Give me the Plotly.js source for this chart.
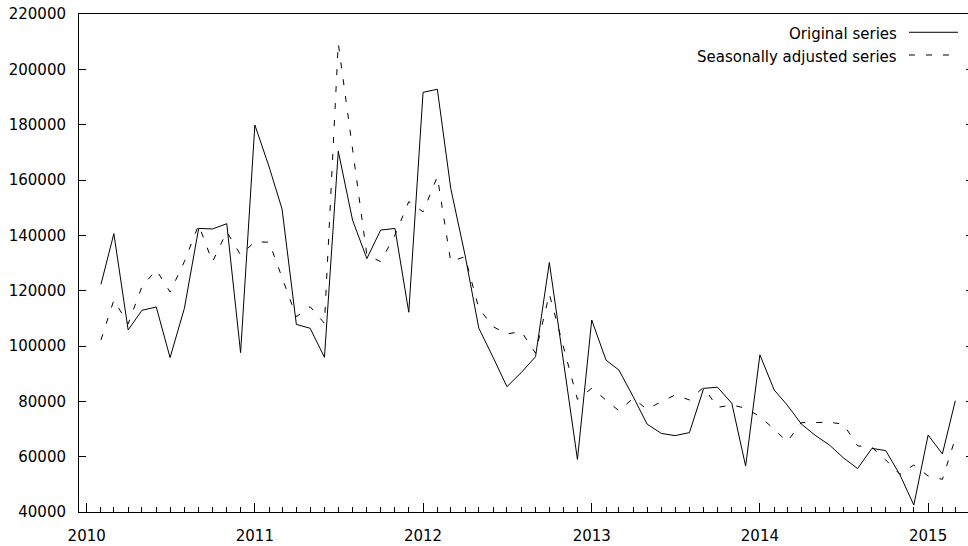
<!DOCTYPE html>
<html>
<head>
<meta charset="utf-8">
<script src="https://cdn.plot.ly/plotly-3.0.1.min.js"></script>
<style>
  html, body { margin: 0; padding: 0; overflow: hidden; background: #fff; }
  #chart { width: 974px; height: 546px; }
</style>
</head>
<body>
<div id="chart"></div>
<script>
const months = [
  '2010-02','2010-03','2010-04','2010-05','2010-06','2010-07','2010-08','2010-09','2010-10','2010-11','2010-12',
  '2011-01','2011-02','2011-03','2011-04','2011-05','2011-06','2011-07','2011-08','2011-09','2011-10','2011-11','2011-12',
  '2012-01','2012-02','2012-03','2012-04','2012-05','2012-06','2012-07','2012-08','2012-09','2012-10','2012-11','2012-12',
  '2013-01','2013-02','2013-03','2013-04','2013-05','2013-06','2013-07','2013-08','2013-09','2013-10','2013-11','2013-12',
  '2014-01','2014-02','2014-03','2014-04','2014-05','2014-06','2014-07','2014-08','2014-09','2014-10','2014-11','2014-12',
  '2015-01','2015-02','2015-03'
];

const originalSeries = [
  122300, 140600, 105800, 112900, 114100, 95800, 113600, 142500, 142300, 144200, 97600,
  179900, 164700, 149500, 107800, 106400, 95900, 170400, 145500, 131600, 141900, 142500, 112200,
  191700, 192800, 157000, 132900, 106400, 95900, 85300, 90400, 96100, 130200, 94700, 59000,
  109400, 94900, 91300, 81700, 71800, 68400, 67600, 68700, 84700, 85100, 79300, 56600,
  96800, 84100, 78700, 71800, 67700, 64200, 59600, 55700, 63000, 62200, 53400, 42500,
  67800, 61000, 80200
];

const adjustedSeries = [
  102200, 116600, 108000, 121500, 127500, 119500, 130500, 143800, 130400, 141300, 132900,
  137700, 137500, 124500, 110600, 114200, 108200, 209400, 171000, 132900, 130500, 140100, 152200,
  148500, 161200, 130500, 132300, 113600, 107000, 104300, 105300, 97400, 118800, 99500, 80700,
  84700, 80500, 76600, 81100, 77100, 79900, 82300, 80500, 85100, 77800, 78700, 77500,
  74500, 69900, 65400, 72300, 72400, 72400, 71800, 63900, 63400, 58800, 53600, 57000,
  53000, 51800, 66600
];

const seriesNames = ['Original series', 'Seasonally adjusted series'];
const yTicks = [40000, 60000, 80000, 100000, 120000, 140000, 160000, 180000, 200000, 220000];

const dates = months.map(m => m + '-01');
const FONT = 'DejaVu Sans, Verdana, sans-serif';
const DASH = '6px,11px';

const traces = [
  {
    x: dates, y: originalSeries, name: seriesNames[0], type: 'scatter', mode: 'lines',
    line: { color: '#000000', width: 1 }, showlegend: false, hoverinfo: 'x+y'
  },
  {
    x: dates, y: adjustedSeries, name: seriesNames[1], type: 'scatter', mode: 'lines',
    line: { color: '#000000', width: 1, dash: DASH }, showlegend: false, hoverinfo: 'x+y'
  }
];

const legX = 0.9172, legL0 = 0.9284, legL1 = 0.9832;
const legY = [0.960, 0.914];

const layout = {
  width: 974, height: 546,
  margin: { l: 79, r: 1, t: 14, b: 34, pad: 0 },
  paper_bgcolor: '#ffffff', plot_bgcolor: '#ffffff',
  font: { family: FONT, size: 15, color: '#000000' },
  showlegend: false,
  xaxis: {
    type: 'date',
    range: ['2009-12-15 08:00', '2015-04-08 10:00'],
    tick0: '2010-01-01', dtick: 'M12', tickformat: '%Y',
    ticks: 'inside', ticklen: 9, tickwidth: 1, tickcolor: '#000000',
    minor: { dtick: 'M1', ticks: 'inside', ticklen: 5, tickwidth: 1, tickcolor: '#000000', showgrid: false },
    showgrid: false, zeroline: false,
    showline: true, linecolor: '#000000', linewidth: 1, mirror: true,
    ticklabelstandoff: 10,
    tickfont: { family: FONT, size: 15, color: '#000000' }
  },
  yaxis: {
    range: [40000, 220000],
    tickmode: 'array', tickvals: yTicks, ticktext: yTicks.map(String),
    ticks: 'inside', ticklen: 7, tickwidth: 1, tickcolor: '#000000',
    showgrid: false, zeroline: false,
    showline: true, linecolor: '#000000', linewidth: 1, mirror: 'ticks',
    ticklabelstandoff: 9,
    tickfont: { family: FONT, size: 15, color: '#000000' }
  },
  annotations: seriesNames.map((t, i) => ({
    xref: 'paper', yref: 'paper', x: legX, y: legY[i],
    xanchor: 'right', yanchor: 'middle', text: t, showarrow: false,
    font: { family: FONT, size: 15, color: '#000000' }
  })),
  shapes: [
    { type: 'line', xref: 'paper', yref: 'paper', x0: legL0, x1: legL1, y0: 0.9633, y1: 0.9633,
      line: { color: '#000000', width: 1 } },
    { type: 'line', xref: 'paper', yref: 'paper', x0: legL0, x1: legL1, y0: 0.9177, y1: 0.9177,
      line: { color: '#000000', width: 1, dash: DASH } }
  ]
};

Plotly.newPlot('chart', traces, layout, { staticPlot: true, displayModeBar: false });
</script>
</body>
</html>
